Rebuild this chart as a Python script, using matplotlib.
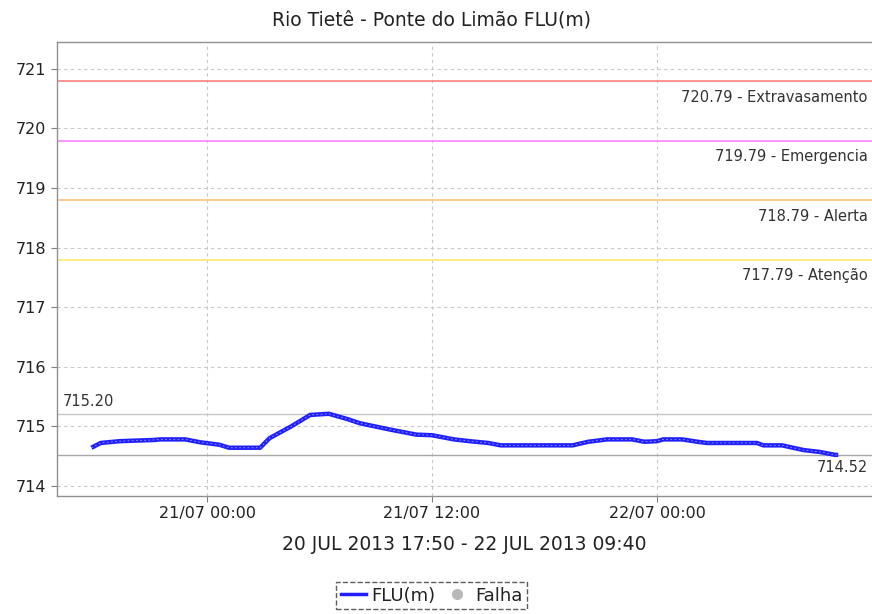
import datetime as dt
import matplotlib
matplotlib.use("Agg")
import matplotlib.pyplot as plt
import matplotlib.dates as mdates
from matplotlib.lines import Line2D

# leituras do nivel (hora, metros) - 20/07 17:50 ate 22/07 09:40
horas = [
    "2013-07-20 17:50", "2013-07-20 18:20", "2013-07-20 19:20", "2013-07-20 21:10",
    "2013-07-20 21:30", "2013-07-20 22:50", "2013-07-20 23:40", "2013-07-21 00:40",
    "2013-07-21 01:10", "2013-07-21 02:50", "2013-07-21 03:20", "2013-07-21 04:30",
    "2013-07-21 05:30", "2013-07-21 06:30", "2013-07-21 07:30", "2013-07-21 08:10",
    "2013-07-21 09:50", "2013-07-21 11:10", "2013-07-21 12:00", "2013-07-21 13:10",
    "2013-07-21 14:00", "2013-07-21 15:00", "2013-07-21 15:40", "2013-07-21 19:30",
    "2013-07-21 20:20", "2013-07-21 21:20", "2013-07-21 22:40", "2013-07-21 23:20",
    "2013-07-22 00:00", "2013-07-22 00:20", "2013-07-22 01:20", "2013-07-22 02:10",
    "2013-07-22 02:40", "2013-07-22 05:20", "2013-07-22 05:40", "2013-07-22 06:40",
    "2013-07-22 07:50", "2013-07-22 08:40", "2013-07-22 09:30", "2013-07-22 09:40",
]
nivel = [
    714.64, 714.72, 714.75, 714.77, 714.78, 714.78, 714.73, 714.69,
    714.64, 714.64, 714.80, 715.00, 715.19, 715.21, 715.12, 715.05,
    714.94, 714.86, 714.85, 714.78, 714.75, 714.72, 714.68, 714.68,
    714.74, 714.78, 714.78, 714.74, 714.75, 714.78, 714.78, 714.74,
    714.72, 714.72, 714.68, 714.68, 714.60, 714.57, 714.52, 714.52,
]

cotas = [720.79, 719.79, 718.79, 717.79]
cotas_nome = ["Extravasamento", "Emergencia", "Alerta", "Atenção"]
cotas_cor = ["#ff8080", "#ff80ff", "#ffc080", "#ffe870"]

nivel_max = 715.20
nivel_ult = 714.52

tempo = [dt.datetime.strptime(h, "%Y-%m-%d %H:%M") for h in horas]

fig = plt.figure(figsize=(8.72, 6.14), dpi=100)
ax = fig.add_axes([0.0654, 0.1922, 0.9346, 0.7394])

x0 = dt.datetime(2013, 7, 20, 16, 0)
x1 = dt.datetime(2013, 7, 22, 11, 28)
ax.set_xlim(x0, x1)
ax.set_ylim(713.83, 721.45)

ax.grid(True, color="#c8c8c8", linestyle=(0, (3, 3)), linewidth=0.8)
ax.set_axisbelow(True)

for v, nome, cor in zip(cotas, cotas_nome, cotas_cor):
    ax.axhline(v, color=cor, lw=1.2)
    ax.annotate("%.2f - %s" % (v, nome), xy=(1.0, v), xycoords=("axes fraction", "data"),
                xytext=(-3, -6), textcoords="offset points", ha="right", va="top",
                fontsize=10.5, color="#333333")

ax.axhline(nivel_max, color="#c8c8c8", lw=1.0)
ax.annotate("%.2f" % nivel_max, xy=(0.0, nivel_max), xycoords=("axes fraction", "data"),
            xytext=(4, 4), textcoords="offset points", ha="left", va="bottom",
            fontsize=10.5, color="#333333")
ax.axhline(nivel_ult, color="#a8a8a8", lw=1.0)
ax.annotate("%.2f" % nivel_ult, xy=(1.0, nivel_ult), xycoords=("axes fraction", "data"),
            xytext=(-3, -4), textcoords="offset points", ha="right", va="top",
            fontsize=10.5, color="#333333")

ax.plot(tempo, nivel, color="#2020ff", lw=3.2, solid_joinstyle="round", solid_capstyle="butt")
ax.plot(tempo, nivel, color="#a0a0ff", lw=0.6, ls=(0, (2, 3)))

ax.xaxis.set_major_locator(mdates.HourLocator(byhour=[0, 12]))
ax.xaxis.set_major_formatter(mdates.DateFormatter("%d/%m %H:%M"))
ax.set_yticks([714, 715, 716, 717, 718, 719, 720, 721])
ax.tick_params(axis="both", labelsize=11.5, colors="#808080", labelcolor="#222222",
               length=4, width=0.8)

for s in ["left", "bottom", "top"]:
    ax.spines[s].set_color("#909090")
    ax.spines[s].set_linewidth(1.0)
ax.spines["right"].set_visible(False)

ax.set_xlabel("20 JUL 2013 17:50 - 22 JUL 2013 09:40", fontsize=13.5, color="#222222", labelpad=10)
fig.text(0.495, 0.967, "Rio Tietê - Ponte do Limão FLU(m)", ha="center", va="center",
         fontsize=13.5, color="#222222")

handles = [
    Line2D([], [], color="#2020ff", lw=2.5),
    Line2D([], [], color="#b8b8b8", lw=0, marker="o", markersize=7),
]
leg = fig.legend(handles, ["FLU(m)", "Falha"], loc="center", bbox_to_anchor=(0.495, 0.03),
                 ncol=2, fontsize=13, frameon=True, fancybox=False, handlelength=1.4,
                 handletextpad=0.3, columnspacing=0.5, borderpad=0.25, borderaxespad=0)
frame = leg.get_frame()
frame.set_edgecolor("#333333")
frame.set_linestyle("--")
frame.set_linewidth(1.0)
for t in leg.get_texts():
    t.set_color("#222222")

fig.savefig("out.png", dpi=100)
